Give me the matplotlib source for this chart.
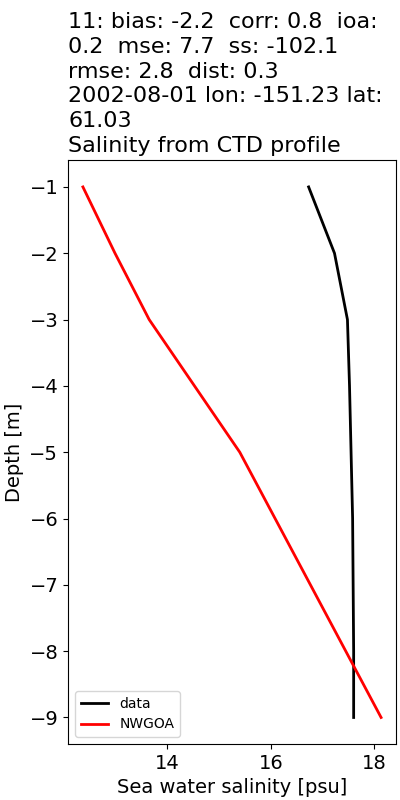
import numpy as np
import matplotlib
matplotlib.use("Agg")
import matplotlib.pyplot as plt

# depth levels [m] and salinity values [psu]
data_depth = [-1, -2, -3, -4, -5, -6, -7, -8, -9]
data_sal = [16.73, 17.23, 17.48, 17.52, 17.55, 17.58, 17.59, 17.6, 17.6]

model_depth = [-1, -2, -3, -5, -9]
model_sal = [12.37, 12.99, 13.65, 15.40, 18.13]

title = ("11: bias: -2.2  corr: 0.8  ioa:\n"
         "0.2  mse: 7.7  ss: -102.1\n"
         "rmse: 2.8  dist: 0.3\n"
         "2002-08-01 lon: -151.23 lat:\n"
         "61.03\n"
         "Salinity from CTD profile")

fig, ax = plt.subplots(figsize=(4, 8), dpi=100)
ax.plot(data_sal, data_depth, color='black', lw=2, label='data')
ax.plot(model_sal, model_depth, color='red', lw=2, label='NWGOA')

ax.set_title(title, loc='left', fontsize=16, linespacing=1.3)
ax.set_xlabel("Sea water salinity [psu]", fontsize=14)
ax.set_ylabel("Depth [m]", fontsize=14)
ax.tick_params(labelsize=14)
ax.set_xticks([14, 16, 18])
ax.legend(loc='lower left', fontsize=10)

fig.subplots_adjust(left=0.17, right=0.99, top=0.7995, bottom=0.07)
fig.savefig("out.png")
